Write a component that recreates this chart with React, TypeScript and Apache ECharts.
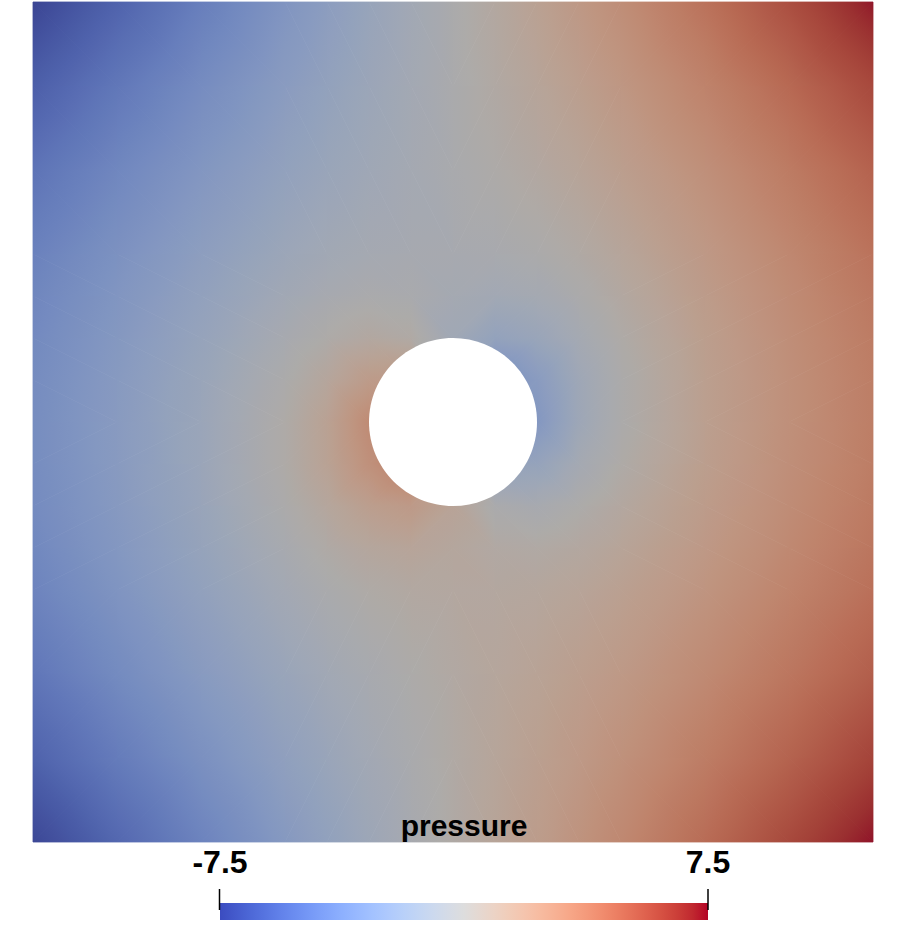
import React, { useEffect, useRef } from "react";
import * as echarts from "echarts";

// Mesh node positions (domain units, 0..10)
const X_NODES = [0, 1, 2, 3, 3.5, 4, 4.5, 5, 5.5, 6, 6.5, 7, 8, 9, 10];
// rows listed from top (y = 10) to bottom (y = 0)
const Y_NODES = [10, 9, 8, 7, 6.5, 6, 5.5, 5, 4.5, 4, 3.5, 3, 2, 1, 0];

// Estimated pressure at each node (rows follow Y_NODES, columns follow X_NODES)
const PRESSURE_Y10 = [-7.5, -6.07, -4.55, -3.07, -2.34, -1.62, -0.91, -0.2, 0.51, 1.24, 1.98, 2.73, 4.25, 5.83, 7.42];
const PRESSURE_Y9 = [-6.27, -4.96, -3.69, -2.48, -1.9, -1.34, -0.8, -0.25, 0.3, 0.86, 1.46, 2.08, 3.37, 4.7, 6.07];
const PRESSURE_Y8 = [-5.18, -4.03, -2.93, -1.91, -1.46, -1.05, -0.69, -0.34, 0.03, 0.45, 0.92, 1.45, 2.59, 3.79, 5.0];
const PRESSURE_Y7 = [-4.36, -3.3, -2.25, -1.29, -0.9, -0.64, -0.52, -0.5, -0.42, -0.16, 0.26, 0.79, 1.95, 3.1, 4.22];
const PRESSURE_Y65 = [-4.06, -3.01, -1.95, -0.92, -0.5, -0.25, -0.32, -0.67, -0.88, -0.67, -0.18, 0.44, 1.69, 2.85, 3.95];
const PRESSURE_Y6 = [-3.84, -2.79, -1.69, -0.51, 0.06, 0.47, 0.25, -1.0, -1.85, -1.47, -0.68, 0.11, 1.49, 2.67, 3.76];
const PRESSURE_Y55 = [-3.69, -2.64, -1.48, -0.12, 0.72, 1.71, 1.9, -1.2, -3.6, -2.51, -1.12, -0.12, 1.38, 2.58, 3.65];
const PRESSURE_Y5 = [-3.63, -2.56, -1.38, 0.12, 1.18, 2.87, 3.1, 0, -3.1, -2.87, -1.18, -0.12, 1.38, 2.56, 3.63];
const PRESSURE_Y45 = [-3.65, -2.58, -1.38, 0.12, 1.12, 2.51, 3.6, 1.2, -1.9, -1.71, -0.72, 0.12, 1.48, 2.64, 3.69];
const PRESSURE_Y4 = [-3.76, -2.67, -1.49, -0.11, 0.68, 1.47, 1.85, 1.0, -0.25, -0.47, -0.06, 0.51, 1.69, 2.79, 3.84];
const PRESSURE_Y35 = [-3.95, -2.85, -1.69, -0.44, 0.18, 0.67, 0.88, 0.67, 0.32, 0.25, 0.5, 0.92, 1.95, 3.01, 4.06];
const PRESSURE_Y3 = [-4.22, -3.1, -1.95, -0.79, -0.26, 0.16, 0.42, 0.5, 0.52, 0.64, 0.9, 1.29, 2.25, 3.3, 4.36];
const PRESSURE_Y2 = [-5.0, -3.79, -2.59, -1.45, -0.92, -0.45, -0.03, 0.34, 0.69, 1.05, 1.46, 1.91, 2.93, 4.03, 5.18];
const PRESSURE_Y1 = [-6.07, -4.7, -3.37, -2.08, -1.46, -0.86, -0.3, 0.25, 0.8, 1.34, 1.9, 2.48, 3.69, 4.96, 6.27];
const PRESSURE_Y0 = [-7.42, -5.83, -4.25, -2.73, -1.98, -1.24, -0.51, 0.2, 0.91, 1.62, 2.34, 3.07, 4.55, 6.07, 7.5];

const PRESSURE_ROWS = [
  PRESSURE_Y10, PRESSURE_Y9, PRESSURE_Y8, PRESSURE_Y7, PRESSURE_Y65,
  PRESSURE_Y6, PRESSURE_Y55, PRESSURE_Y5, PRESSURE_Y45, PRESSURE_Y4,
  PRESSURE_Y35, PRESSURE_Y3, PRESSURE_Y2, PRESSURE_Y1, PRESSURE_Y0,
];

// Obstacle (hole) in the domain
const HOLE_CENTER = [5, 5];
const HOLE_RADIUS = 1;

// Colour bar
const RANGE_MIN = -7.5;
const RANGE_MAX = 7.5;
const TICK_LABELS = ["-7.5", "7.5"];
const TITLE = "pressure";

// Cool-to-warm colour map
const COOLWARM = [
  [59, 76, 192], [68, 90, 204], [77, 104, 215], [87, 117, 225], [98, 130, 234],
  [108, 142, 241], [119, 154, 247], [130, 165, 251], [141, 176, 254], [152, 185, 255],
  [163, 194, 255], [174, 201, 253], [184, 208, 249], [194, 213, 244], [204, 217, 238],
  [213, 219, 230], [221, 221, 221], [229, 216, 209], [236, 211, 197], [241, 204, 184],
  [245, 196, 173], [247, 187, 160], [247, 177, 148], [247, 166, 135], [244, 154, 123],
  [241, 141, 111], [236, 127, 99], [229, 112, 88], [222, 96, 77], [213, 80, 66],
  [203, 62, 56], [192, 40, 47], [180, 4, 38],
];

function coolwarm(t: number): number[] {
  const tt = Math.max(0, Math.min(1, t));
  const f = tt * (COOLWARM.length - 1);
  const i = Math.min(COOLWARM.length - 2, Math.floor(f));
  const w = f - i;
  const a = COOLWARM[i];
  const b = COOLWARM[i + 1];
  return [a[0] + (b[0] - a[0]) * w, a[1] + (b[1] - a[1]) * w, a[2] + (b[2] - a[2]) * w];
}

function rgb(c: number[]): string {
  return `rgb(${Math.round(c[0])},${Math.round(c[1])},${Math.round(c[2])})`;
}

// shaded surface look of the field (darker than the bar)
function fieldColor(v: number): string {
  const c = coolwarm((v - RANGE_MIN) / (RANGE_MAX - RANGE_MIN));
  return rgb([c[0] * 0.7 + 18, c[1] * 0.7 + 16, c[2] * 0.7 + 14]);
}

function buildCells(): number[][] {
  const cells: number[][] = [];
  for (let r = 0; r < Y_NODES.length - 1; r++) {
    for (let c = 0; c < X_NODES.length - 1; c++) {
      const yTop = Y_NODES[r];
      const yBot = Y_NODES[r + 1];
      cells.push([
        X_NODES[c], yBot, X_NODES[c + 1], yTop,
        PRESSURE_ROWS[r + 1][c], PRESSURE_ROWS[r + 1][c + 1],
        PRESSURE_ROWS[r][c], PRESSURE_ROWS[r][c + 1],
      ]);
    }
  }
  return cells;
}

function triangle(pts: number[][], vals: number[]) {
  const [p0, p1, p2] = pts;
  const [v0, v1, v2] = vals;
  const e1x = p1[0] - p0[0], e1y = p1[1] - p0[1];
  const e2x = p2[0] - p0[0], e2y = p2[1] - p0[1];
  const d1 = v1 - v0, d2 = v2 - v0;
  const det = e1x * e2y - e1y * e2x;
  const vmin = Math.min(v0, v1, v2);
  const vmax = Math.max(v0, v1, v2);
  let fill: any;
  if (Math.abs(det) < 1e-9 || vmax - vmin < 1e-6) {
    fill = fieldColor(v0);
  } else {
    const gx = (d1 * e2y - e1y * d2) / det;
    const gy = (e1x * d2 - d1 * e2x) / det;
    const gl = Math.hypot(gx, gy);
    const nx = gx / gl, ny = gy / gl;
    const t0 = nx * p0[0] + ny * p0[1];
    const tmin = t0 + (vmin - v0) / gl;
    const tmax = t0 + (vmax - v0) / gl;
    const K = Math.max(2, Math.ceil((vmax - vmin) / 0.3));
    const stops = [];
    for (let k = 0; k <= K; k++) {
      stops.push({ offset: k / K, color: fieldColor(vmin + ((vmax - vmin) * k) / K) });
    }
    fill = {
      type: "linear",
      x: nx * tmin, y: ny * tmin, x2: nx * tmax, y2: ny * tmax,
      colorStops: stops, global: true,
    };
  }
  return {
    type: "polygon",
    shape: { points: pts },
    style: { fill, stroke: fill, lineWidth: 0.8 },
  };
}

export default function App() {
  const ref = useRef<HTMLDivElement>(null);
  useEffect(() => {
    if (!ref.current) return;
    const chart = echarts.init(ref.current, undefined, { renderer: "svg" });
    const cells = buildCells();
    const barStops = COOLWARM.map((c, i) => ({ offset: i / (COOLWARM.length - 1), color: rgb(c) }));
    const font = '"Liberation Sans", Arial, Helvetica, sans-serif';
    const barLeft = 220, barRight = 708, barTop = 903, barH = 17;
    chart.setOption({
      animation: false,
      backgroundColor: "#ffffff",
      grid: { left: 33, top: 2, width: 840, height: 840, show: false },
      xAxis: { type: "value", min: 0, max: 10, show: false },
      yAxis: { type: "value", min: 0, max: 10, show: false },
      series: [
        {
          type: "custom",
          silent: true,
          data: cells,
          renderItem: (_params: any, api: any) => {
            const x0 = api.value(0), y0 = api.value(1), x1 = api.value(2), y1 = api.value(3);
            const v00 = api.value(4), v10 = api.value(5), v01 = api.value(6), v11 = api.value(7);
            const p00 = api.coord([x0, y0]);
            const p10 = api.coord([x1, y0]);
            const p01 = api.coord([x0, y1]);
            const p11 = api.coord([x1, y1]);
            const mx = (x0 + x1) / 2 - HOLE_CENTER[0];
            const my = (y0 + y1) / 2 - HOLE_CENTER[1];
            const children =
              mx * my >= 0
                ? [triangle([p00, p10, p11], [v00, v10, v11]), triangle([p00, p11, p01], [v00, v11, v01])]
                : [triangle([p10, p11, p01], [v10, v11, v01]), triangle([p10, p01, p00], [v10, v01, v00])];
            return { type: "group", children };
          },
        },
        {
          type: "custom",
          silent: true,
          z: 3,
          data: [[HOLE_CENTER[0], HOLE_CENTER[1], HOLE_RADIUS]],
          renderItem: (_params: any, api: any) => {
            const c = api.coord([api.value(0), api.value(1)]);
            const s = api.size([api.value(2), api.value(2)]);
            return {
              type: "ellipse",
              shape: { cx: c[0], cy: c[1], rx: s[0], ry: s[1] },
              style: { fill: "#ffffff" },
            };
          },
        },
      ],
      graphic: [
        {
          type: "rect",
          z: 10,
          shape: { x: barLeft, y: barTop, width: barRight - barLeft, height: barH },
          style: {
            fill: { type: "linear", x: 0, y: 0, x2: 1, y2: 0, colorStops: barStops },
          },
        },
        {
          type: "line",
          z: 11,
          shape: { x1: barLeft - 0.5, y1: barTop - 14, x2: barLeft - 0.5, y2: barTop + 7 },
          style: { stroke: "#000", lineWidth: 1.5 },
        },
        {
          type: "line",
          z: 11,
          shape: { x1: barRight, y1: barTop - 14, x2: barRight, y2: barTop + 7 },
          style: { stroke: "#000", lineWidth: 1.5 },
        },
        {
          type: "text",
          z: 11,
          style: {
            text: TICK_LABELS[0], x: barLeft, y: 862,
            font: `bold 32px ${font}`, fill: "#000",
            textAlign: "center", textVerticalAlign: "middle", align: "center", verticalAlign: "middle",
          },
        },
        {
          type: "text",
          z: 11,
          style: {
            text: TICK_LABELS[1], x: barRight, y: 862,
            font: `bold 32px ${font}`, fill: "#000",
            textAlign: "center", textVerticalAlign: "middle", align: "center", verticalAlign: "middle",
          },
        },
        {
          type: "text",
          z: 11,
          style: {
            text: TITLE, x: (barLeft + barRight) / 2, y: 825,
            font: `bold 30px ${font}`, fill: "#000",
            textAlign: "center", textVerticalAlign: "middle", align: "center", verticalAlign: "middle",
          },
        },
      ],
    });
    return () => chart.dispose();
  }, []);
  return (
    <div
      ref={ref}
      style={{ position: "absolute", left: 0, top: 0, width: 909, height: 929, background: "#fff" }}
    />
  );
}
